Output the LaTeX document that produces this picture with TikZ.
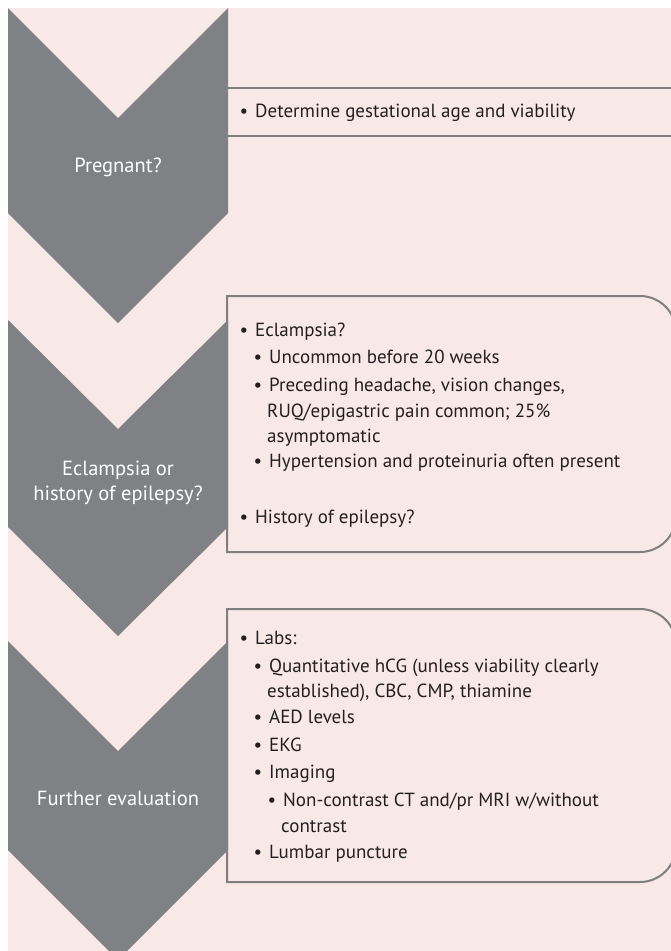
\documentclass[tikz,border=0pt]{standalone}
\usepackage{fontspec}
\setmainfont{PT Sans}
\definecolor{bgpink}{HTML}{F8E9E8}
\definecolor{chevgray}{HTML}{808184}
\definecolor{rulegray}{HTML}{7F7F7F}
\definecolor{inkdark}{HTML}{231F20}
\newcommand\bul{\llap{\textbullet\hspace{7pt}}}

\begin{document}
\begin{tikzpicture}[x=1pt,y=-1pt,
  chev/.style={fill=chevgray, draw=none},
  frame/.style={draw=rulegray, line width=2pt, fill=bgpink},
  rulel/.style={draw=rulegray, line width=2pt},
  item/.style={anchor=base west, inner sep=0pt, text=inkdark,
               font=\fontsize{19}{23}\selectfont},
  chevlabel/.style={anchor=base, inner sep=0pt, text=white,
               font=\fontsize{20.5}{24}\selectfont},
]
\useasboundingbox (0,0) rectangle (671,951);
\clip (0,0) rectangle (671,951);
\fill[bgpink] (8,8) rectangle (671,951);

% text panels (drawn first, chevrons overlap their left edges)
\draw[rulel] (228,88) -- (680,88);
\draw[rulel] (228,136) -- (680,136);
\draw[frame] (227,296) -- (640,296) arc[start angle=-90,end angle=0,radius=36]
  -- (676,516) arc[start angle=0,end angle=90,radius=36] -- (227,552) -- cycle;
\draw[frame] (227,609) -- (640,609) arc[start angle=-90,end angle=0,radius=36]
  -- (676,846) arc[start angle=0,end angle=90,radius=36] -- (227,882) -- cycle;

% chevrons
\fill[chev] (8,8) -- (118,118) -- (228,8) -- (228,213) -- (118,323) -- (8,213) -- cycle;
\fill[chev] (8,320) -- (118,429) -- (228,320) -- (228,527) -- (118,636) -- (8,527) -- cycle;
\fill[chev] (8,641) -- (118,751) -- (228,641) -- (228,850) -- (118,960) -- (8,850) -- cycle;

% chevron labels
\node[chevlabel] (c1) at (118,172) {Pregnant?};
\node[chevlabel] (c2a) at (118,475) {Eclampsia or};
\node[chevlabel] (c2b) at (118,500) {history of epilepsy?};
\node[chevlabel] (c3) at (118,805) {Further evaluation};

% panel 1
\node[item] (p1) at (255,117) {\bul Determine gestational age and viability};

% panel 2
\node[item] (e1) at (255,336) {\bul Eclampsia?};
\node[item] (e2) at (269,363) {\bul Uncommon before 20 weeks};
\node[item] (e3) at (269,391) {\bul Preceding headache, vision changes,};
\node[item] (e3b) at (267,417) {RUQ/epigastric pain common; 25\%};
\node[item] (e3c) at (267,442) {asymptomatic};
\node[item] (e4) at (269,467) {\bul Hypertension and proteinuria often present};
\node[item] (e5) at (255,523) {\bul History of epilepsy?};

% panel 3
\node[item] (f1) at (255,644) {\bul Labs:};
\node[item] (f2) at (269,672) {\bul Quantitative hCG (unless viability clearly};
\node[item] (f2b) at (267,697) {established), CBC, CMP, thiamine};
\node[item] (f3) at (269,723) {\bul AED levels};
\node[item] (f4) at (269,751) {\bul EKG};
\node[item] (f5) at (269,778) {\bul Imaging};
\node[item] (f6) at (283,806) {\bul Non-contrast CT and/pr MRI w/without};
\node[item] (f6b) at (281,832) {contrast};
\node[item] (f7) at (269,858) {\bul Lumbar puncture};
\end{tikzpicture}
\end{document}
